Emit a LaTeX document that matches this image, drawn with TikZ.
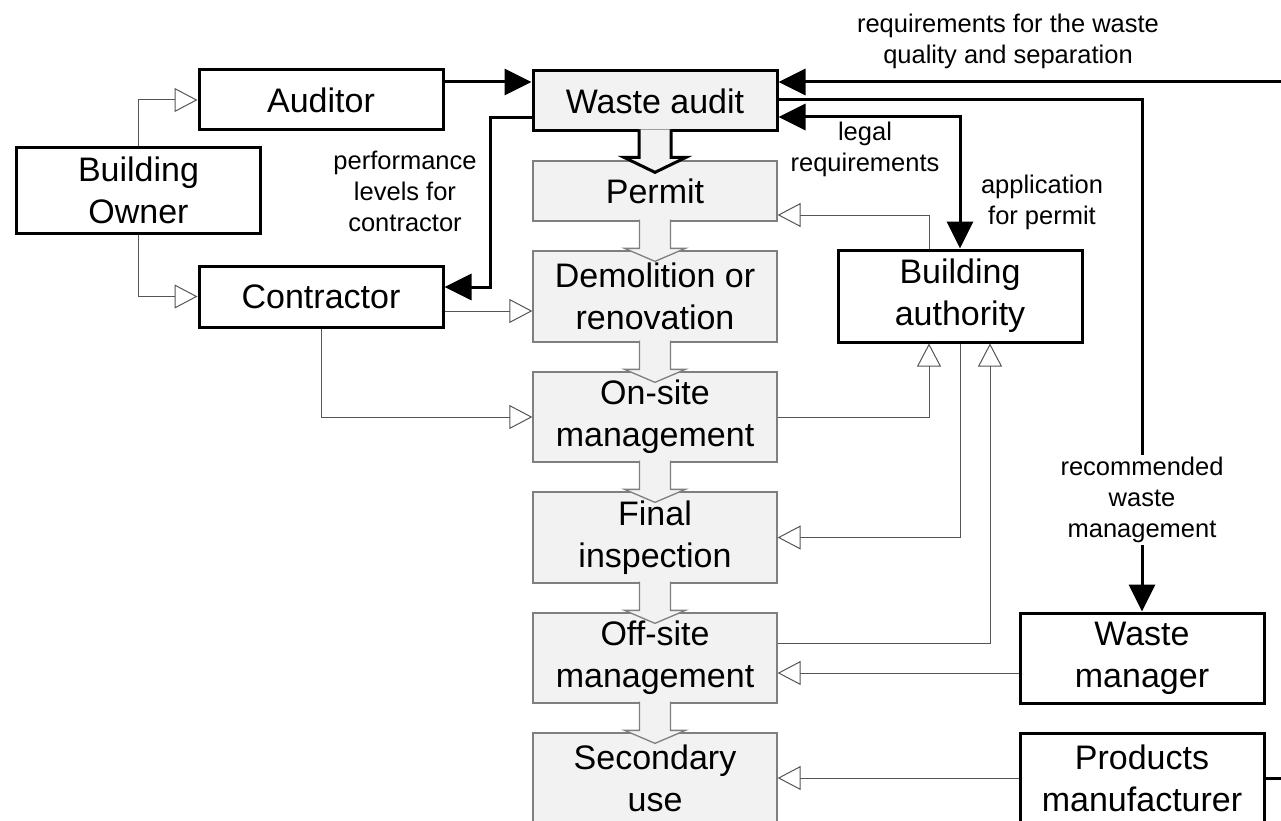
\documentclass[tikz,border=0pt]{standalone}
\usepackage{fontspec}
\setmainfont{Liberation Sans}
\usetikzlibrary{arrows.meta}
\tikzset{
  actor/.style = {draw = black, line width = 3pt, fill = white, minimum width = 244pt, inner sep = 0pt, align = center, font = \fontsize{34}{42}\selectfont},
  stage/.style = {draw = stagegray, line width = 1.3pt, fill = stagefill, minimum width = 244pt, minimum height = 90pt, inner sep = 0pt, align = center, font = \fontsize{34}{42}\selectfont},
  note/.style = {align = center, inner sep = 1pt, font = \fontsize{25.5}{31}\selectfont},
  flow/.style = {line width = 3pt, -{Triangle[length = 27pt, width = 26pt]}},
  feed/.style = {draw = linegray, line width = 1pt, -{Triangle[open, length = 23pt, width = 24pt]}},
  blockflow/.style = {draw = stagegray, line width = 1.3pt, fill = stagefill}
}
\begin{document}
\begin{tikzpicture}[x = 1pt, y = -1pt]
\definecolor{stagefill}{HTML}{F2F2F2}
\definecolor{stagegray}{HTML}{7F7F7F}
\definecolor{linegray}{HTML}{555555}
\useasboundingbox (0, 0) rectangle (1281, 821);
\node[actor, minimum height = 85pt] (owner) at (138.5, 190.5) {Building\\Owner};
\node[actor, minimum height = 60pt] (auditor) at (321, 100) {Auditor};
\node[actor, minimum height = 61pt] (contractor) at (321, 296.5) {Contractor};
\node[actor, minimum height = 60pt, fill = stagefill] (audit) at (655, 101) {Waste audit};
\node[stage, minimum height = 60pt] (permit) at (655, 191) {Permit};
\node[stage, minimum height = 91pt] (demolition) at (655, 296.5) {Demolition or\\renovation};
\node[stage] (onsite) at (655, 417) {On-site\\management};
\node[stage, minimum height = 91pt] (final) at (655, 537.5) {Final\\inspection};
\node[stage] (offsite) at (655, 658) {Off-site\\management};
\node[stage] (secondary) at (655, 778) {Secondary\\use};
\node[actor, minimum height = 92pt] (authority) at (960, 296) {Building\\authority};
\node[actor, minimum height = 90pt] (wastemgr) at (1142, 658) {Waste\\manager};
\node[actor, minimum height = 90pt] (manufacturer) at (1142, 778) {Products\\manufacturer};
\coordinate (qualityin) at (1281, 82);
\coordinate (productsout) at (1281, 778);
\filldraw[blockflow, draw = black, line width = 3pt] ([xshift = -16pt, yshift = 3pt]audit.south) -- ([xshift = -16pt, yshift = 3pt]permit.north) -- ([xshift = -31pt, yshift = 3pt]permit.north) -- ([yshift = -12pt]permit.north) -- ([xshift = 31pt, yshift = 3pt]permit.north) -- ([xshift = 16pt, yshift = 3pt]permit.north) -- ([xshift = 16pt, yshift = 3pt]audit.south);
\filldraw[blockflow] ([xshift = -15.5pt, yshift = 2pt]permit.south) -- ([xshift = -15.5pt, yshift = 2pt]demolition.north) -- ([xshift = -30.5pt, yshift = 2pt]demolition.north) -- ([yshift = -11pt]demolition.north) -- ([xshift = 30.5pt, yshift = 2pt]demolition.north) -- ([xshift = 15.5pt, yshift = 2pt]demolition.north) -- ([xshift = 15.5pt, yshift = 2pt]permit.south);
\filldraw[blockflow] ([xshift = -15.5pt, yshift = 2pt]demolition.south) -- ([xshift = -15.5pt, yshift = 2pt]onsite.north) -- ([xshift = -30.5pt, yshift = 2pt]onsite.north) -- ([yshift = -11pt]onsite.north) -- ([xshift = 30.5pt, yshift = 2pt]onsite.north) -- ([xshift = 15.5pt, yshift = 2pt]onsite.north) -- ([xshift = 15.5pt, yshift = 2pt]demolition.south);
\filldraw[blockflow] ([xshift = -15.5pt, yshift = 2pt]onsite.south) -- ([xshift = -15.5pt, yshift = 2pt]final.north) -- ([xshift = -30.5pt, yshift = 2pt]final.north) -- ([yshift = -11pt]final.north) -- ([xshift = 30.5pt, yshift = 2pt]final.north) -- ([xshift = 15.5pt, yshift = 2pt]final.north) -- ([xshift = 15.5pt, yshift = 2pt]onsite.south);
\filldraw[blockflow] ([xshift = -15.5pt, yshift = 2pt]final.south) -- ([xshift = -15.5pt, yshift = 2pt]offsite.north) -- ([xshift = -30.5pt, yshift = 2pt]offsite.north) -- ([yshift = -11pt]offsite.north) -- ([xshift = 30.5pt, yshift = 2pt]offsite.north) -- ([xshift = 15.5pt, yshift = 2pt]offsite.north) -- ([xshift = 15.5pt, yshift = 2pt]final.south);
\filldraw[blockflow] ([xshift = -15.5pt, yshift = 2pt]offsite.south) -- ([xshift = -15.5pt, yshift = 2pt]secondary.north) -- ([xshift = -30.5pt, yshift = 2pt]secondary.north) -- ([yshift = -11pt]secondary.north) -- ([xshift = 30.5pt, yshift = 2pt]secondary.north) -- ([xshift = 15.5pt, yshift = 2pt]secondary.north) -- ([xshift = 15.5pt, yshift = 2pt]offsite.south);
\draw[feed] (owner.north) |- (auditor.west);
\draw[feed] (owner.south) |- (contractor.west);
\draw[feed] ([yshift = -14.5pt]contractor.east) -- ([yshift = -14.5pt]demolition.west);
\draw[feed] (contractor.south) |- (onsite.west);
\draw[feed] ([xshift = -31pt]authority.north) |- ([yshift = -24pt]permit.east);
\draw[feed] (onsite.east) -| ([xshift = -31pt]authority.south);
\draw[feed] (authority.south) |- (final.east);
\draw[feed] ([yshift = 15pt]offsite.east) -| ([xshift = 30pt]authority.south);
\draw[feed] ([yshift = -15pt]wastemgr.west) -- ([yshift = -15pt]offsite.east);
\draw[feed] (manufacturer.west) -- (secondary.east);
\draw[flow] ([yshift = 18pt]auditor.east) -- ([yshift = 19pt]audit.west);
\draw[flow] ([yshift = -17pt]audit.west) -- (490, 118) -- (490, 287) -- ([yshift = 9.5pt]contractor.east);
\draw[flow] (qualityin) -- ([yshift = 19pt]audit.east);
\draw[flow] ([yshift = 1pt]audit.east) -| (wastemgr.north);
\draw[flow, {Triangle[length = 27pt, width = 26pt]}-{Triangle[length = 27pt, width = 26pt]}] ([yshift = -16pt]audit.east) -| (authority.north);
\draw[line width = 3pt] (manufacturer.east) -- (productsout);
\node[note] (qualitylabel) at (1008, 41) {requirements for the waste\\quality and separation};
\node[note] (levelslabel) at (405, 191) {performance\\levels for\\contractor};
\node[note] (legallabel) at (865, 149) {legal\\requirements};
\node[note] (applicationlabel) at (1042, 202) {application\\for permit};
\node[note, fill = white, inner sep = 2pt] (recommendlabel) at (1142, 500) {recommended\\waste\\management};
\end{tikzpicture}
\end{document}
